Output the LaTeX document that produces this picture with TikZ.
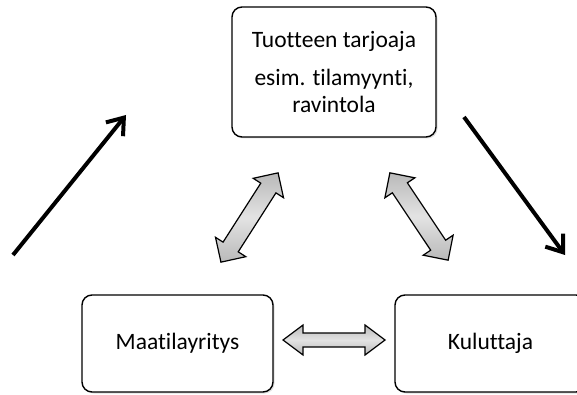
\documentclass[tikz,border=0pt]{standalone}
\usepackage{fontspec}
\setmainfont[Ligatures=NoCommon]{Carlito}
\usetikzlibrary{arrows.meta,shadows}
\tikzset{
  box/.style={draw=black, line width=1.4pt, rounded corners=10pt, fill=white,
    drop shadow={shadow xshift=1.5pt, shadow yshift=-1.5pt, opacity=0.25},
    font=\fontsize{23.5}{27}\selectfont, align=center, inner sep=0pt},
  garrow/.style={draw=black, line width=1.2pt, line join=miter,
    top color=gray!55, bottom color=gray!55, middle color=gray!22},
  bigarrow/.style={line width=4pt, -{Straight Barb[length=15pt,width=22pt,line width=4pt]}}
}
% #1,#2 centre, #3 angle, #4 half length, #5 head half width, #6 shaft half width, #7 head length
\newcommand\grayarrow[7]{%
  \begin{scope}[shift={(#1,#2)},rotate=#3]
    \path[garrow] (-#4,0) -- (-#4+#7,#5) -- (-#4+#7,#6) -- (#4-#7,#6) -- (#4-#7,#5)
      -- (#4,0) -- (#4-#7,-#5) -- (#4-#7,-#6) -- (-#4+#7,-#6) -- (-#4+#7,-#5) -- cycle;
  \end{scope}}
\begin{document}
\begin{tikzpicture}[x=1pt,y=1pt]
\useasboundingbox (0,0) rectangle (577,394);
\node[box, minimum width=204pt, minimum height=130pt] (top) at (334,322)
  {Tuotteen tarjoaja\\[11pt]esim. tilamyynti,\\ravintola};
\node[box, minimum width=191pt, minimum height=97pt] (farm) at (177.5,50.5) {Maatilayritys};
\node[box, minimum width=191pt, minimum height=97pt] (cons) at (490.5,50.5) {Kuluttaja};
\grayarrow{334}{54}{0}{51}{15}{7}{20}
\grayarrow{249.5}{176.5}{57.4}{53}{18}{9}{18}
\grayarrow{419}{177.5}{-56.3}{52.5}{18}{9}{18}
\coordinate (a1) at (13,139);
\coordinate (a2) at (126,279);
\coordinate (b1) at (464,277);
\coordinate (b2) at (565,139);
\draw[bigarrow] (a1) -- (a2);
\draw[bigarrow] (b1) -- (b2);
\end{tikzpicture}
\end{document}
